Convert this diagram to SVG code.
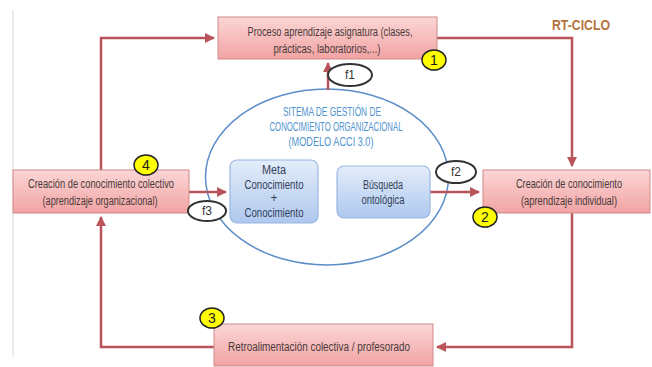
<svg xmlns="http://www.w3.org/2000/svg" width="652" height="367" viewBox="0 0 652 367">
<defs>
<linearGradient id="pink" x1="0" y1="0" x2="0" y2="1">
<stop offset="0" stop-color="#fbd6d6"/>
<stop offset="1" stop-color="#f2a3a3"/>
</linearGradient>
<linearGradient id="blue" x1="0" y1="0" x2="0" y2="1">
<stop offset="0" stop-color="#e4edfa"/>
<stop offset="1" stop-color="#aec8ee"/>
</linearGradient>
<marker id="arr" viewBox="0 0 10 10" refX="9" refY="5" markerWidth="4" markerHeight="4" orient="auto">
<path d="M0,0 L10,5 L0,10 z" fill="#b9555a"/>
</marker>
</defs>
<style>
.box{fill:url(#pink);stroke:#d08a8a;stroke-width:1}
.bbox{fill:url(#blue);stroke:#9ab6df;stroke-width:1.2}
.t{font-family:"Liberation Sans",Arial,sans-serif;font-size:12.5px;fill:#4a3a3a;text-anchor:middle}
.ts{font-size:12px}
.tb{font-family:"Liberation Sans",Arial,sans-serif;font-size:12px;fill:#33415a;text-anchor:middle}
.tt{font-family:"Liberation Sans",Arial,sans-serif;font-size:12.5px;fill:#4f92cf;text-anchor:middle}
.conn{fill:none;stroke:#b9555a;stroke-width:2.5}
.badge{fill:#ffff00;stroke:#222;stroke-width:1.5}
.bn{font-family:"Liberation Sans",Arial,sans-serif;font-size:14px;fill:#222;text-anchor:middle}
.fl{fill:#fff;stroke:#333;stroke-width:2}
.ft{font-family:"Liberation Sans",Arial,sans-serif;font-size:12px;fill:#333;text-anchor:middle}
</style>
<rect width="652" height="367" fill="#fff"/>
<line x1="13" y1="10" x2="13" y2="357" stroke="#d8d8d8" stroke-width="1"/>
<text x="581" y="30" font-family="'Liberation Sans',Arial,sans-serif" font-size="14" font-weight="bold" fill="#b5733d" text-anchor="middle" textLength="58" lengthAdjust="spacingAndGlyphs">RT-CICLO</text>

<g id="sgco">
<ellipse cx="327" cy="177" rx="121.5" ry="88" fill="none" stroke="#5b8ec8" stroke-width="1.5"/>
<text class="tt" x="332" y="116" textLength="98" lengthAdjust="spacingAndGlyphs">SITEMA DE GESTIÓN DE</text>
<text class="tt" x="336" y="131" textLength="133" lengthAdjust="spacingAndGlyphs">CONOCIMIENTO ORGANIZACIONAL</text>
<text class="tt" x="331" y="146" textLength="85" lengthAdjust="spacingAndGlyphs">(MODELO ACCI 3.0)</text>
</g>

<g id="connectors">
<polyline class="conn" points="101,170 101,38 214,38" marker-end="url(#arr)"/>
<polyline class="conn" points="437,38 572,38 572,166" marker-end="url(#arr)"/>
<polyline class="conn" points="572,213 572,347 437,347" marker-end="url(#arr)"/>
<polyline class="conn" points="214,347 101,347 101,217" marker-end="url(#arr)"/>
<line class="conn" x1="328" y1="90" x2="328" y2="63" marker-end="url(#arr)"/>
<line class="conn" x1="189" y1="192" x2="226" y2="192" marker-end="url(#arr)"/>
<line class="conn" x1="430" y1="192" x2="479" y2="192" marker-end="url(#arr)"/>
</g>

<g id="proceso">
<rect class="box" x="218" y="17" width="219" height="42"/>
<text class="t" x="330" y="36" textLength="165" lengthAdjust="spacingAndGlyphs">Proceso aprendizaje asignatura (clases,</text>
<text class="t" x="327" y="53" textLength="107" lengthAdjust="spacingAndGlyphs">prácticas, laboratorios,...)</text>
</g>
<g id="colectivo">
<rect class="box" x="13" y="170" width="176" height="43"/>
<text class="t" x="101" y="188" textLength="146" lengthAdjust="spacingAndGlyphs">Creación de conocimiento colectivo</text>
<text class="t" x="100" y="205" textLength="115" lengthAdjust="spacingAndGlyphs">(aprendizaje organizacional)</text>
</g>
<g id="individual">
<rect class="box" x="483" y="170" width="167" height="43"/>
<text class="t ts" x="569" y="188" textLength="106" lengthAdjust="spacingAndGlyphs">Creación de conocimiento</text>
<text class="t ts" x="569" y="205" textLength="96" lengthAdjust="spacingAndGlyphs">(aprendizaje individual)</text>
</g>
<g id="retro">
<rect class="box" x="214" y="324" width="219" height="42"/>
<text class="t" x="319" y="351" textLength="182" lengthAdjust="spacingAndGlyphs">Retroalimentación colectiva / profesorado</text>
</g>
<g id="meta">
<rect class="bbox" x="230" y="160" width="88" height="63" rx="7"/>
<text class="tb" x="274" y="174" textLength="24" lengthAdjust="spacingAndGlyphs">Meta</text>
<text class="tb" x="274" y="189" textLength="59" lengthAdjust="spacingAndGlyphs">Conocimiento</text>
<text class="tb" x="274" y="202">+</text>
<text class="tb" x="274" y="217" textLength="59" lengthAdjust="spacingAndGlyphs">Conocimiento</text>
</g>
<g id="busqueda">
<rect class="bbox" x="337" y="166" width="93" height="52" rx="7"/>
<text class="tb" x="383" y="189" textLength="40" lengthAdjust="spacingAndGlyphs">Búsqueda</text>
<text class="tb" x="383" y="204" textLength="43" lengthAdjust="spacingAndGlyphs">ontológica</text>
</g>

<g id="f1"><ellipse class="fl" cx="350" cy="75" rx="22" ry="11"/><text class="ft" x="350" y="79">f1</text></g>
<g id="f2"><ellipse class="fl" cx="456" cy="172" rx="20" ry="11"/><text class="ft" x="456" y="176">f2</text></g>
<g id="f3"><ellipse class="fl" cx="207" cy="211" rx="19" ry="10"/><text class="ft" x="207" y="215">f3</text></g>

<g id="b1"><ellipse class="badge" cx="434" cy="60" rx="12" ry="10"/><text class="bn" x="434" y="65">1</text></g>
<g id="b2"><ellipse class="badge" cx="485" cy="217" rx="12" ry="10"/><text class="bn" x="485" y="222">2</text></g>
<g id="b3"><ellipse class="badge" cx="212" cy="318" rx="12" ry="10"/><text class="bn" x="212" y="323">3</text></g>
<g id="b4"><ellipse class="badge" cx="146" cy="165" rx="12" ry="10"/><text class="bn" x="146" y="170">4</text></g>
</svg>
